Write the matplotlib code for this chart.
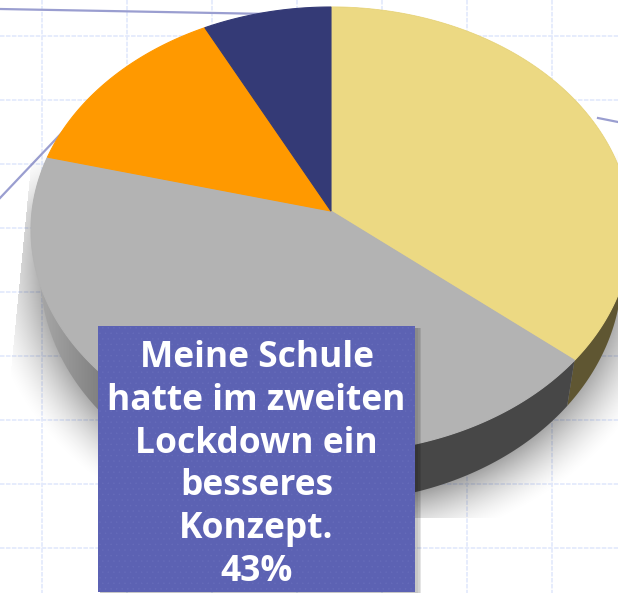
import numpy as np
import matplotlib
matplotlib.use("Agg")
import matplotlib.pyplot as plt
from matplotlib.patches import Polygon, Rectangle

# shares of the pie, clockwise from the top
values = [36, 43, 13.5, 7.5]
top_colors = ["#ecd983", "#b3b3b3", "#ff9900", "#343a76"]
side_colors = ["#5f5632", "#484848", "#484848", "#484848"]
box_text = "Meine Schule\nhatte im zweiten\nLockdown ein\nbesseres\nKonzept.\n43%"

W, H = 618, 593
TILT = 0.085  # perspective: how far the apex moves to the back of the disc


def pie_polys(values, cx, cy, a, b):
    """wedges of a pie seen in perspective, in pixel coordinates"""
    edges = np.cumsum([0] + list(values)) / sum(values) * 2 * np.pi
    apex = (cx, cy - TILT * b)
    polys = []
    for t0, t1 in zip(edges[:-1], edges[1:]):
        t = np.linspace(t0, t1, 200)
        ux, uy = np.sin(t), np.cos(t)
        d = 1 + TILT * uy
        px = cx + a * ux * np.sqrt(1 - TILT ** 2) / d
        py = cy - b * (uy + TILT) / d
        polys.append(np.vstack([apex, np.column_stack([px, py])]))
    return polys


fig = plt.figure(figsize=(W / 100, H / 100), dpi=100)
ax = fig.add_axes([0, 0, 1, 1])
ax.set_xlim(0, W)
ax.set_ylim(H, 0)
ax.axis("off")

# background grid
for x in np.arange(42, W, 85):
    ax.plot([x, x], [0, H], color="#e4eafc", lw=1.3, ls=(0, (2.5, 0.8)), zorder=1)
for y in np.arange(36, H, 64):
    ax.plot([0, W], [y, y], color="#e4eafc", lw=1.3, ls=(0, (2.5, 0.8)), zorder=1)

# thin lines behind the pie
for xs, ys in [([0, 270], [9, 14]), ([0, 111], [198, 81]), ([598, 618], [118, 122])]:
    ax.plot(xs, ys, color="#9a9ed0", lw=1.6, zorder=2)

# soft shadow under the pie
yy, xx = np.mgrid[0:518, 0:W]
d = np.sqrt(((xx - 331) / 318.0) ** 2 + ((yy - 268) / 262.0) ** 2)
alpha = np.clip((1.10 - d) / 0.22, 0, 1) ** 1.6 * 0.42
alpha *= np.clip((yy - 150) / 60.0, 0, 1)
alpha[xx < 30 - (yy - 170) * 18 / 185] = 0
shadow = np.zeros(d.shape + (4,))
shadow[..., 3] = alpha
ax.imshow(shadow, extent=(0, W, 518, 0), zorder=3, aspect="auto", interpolation="bilinear")
ax.set_xlim(0, W)
ax.set_ylim(H, 0)

top_polys = pie_polys(values, 331, 230, 300, 223)
low_polys = pie_polys(values, 331, 271, 291, 231)

# side of the pie, only the rim part that shows below the top
side_polys = [np.vstack([t[1:], l[:0:-1]]) for t, l in zip(top_polys, low_polys)]
ax.add_patch(Polygon(side_polys[0], closed=True, facecolor=side_colors[0], lw=0, zorder=4))
gray_side = Polygon(side_polys[1], closed=True, transform=ax.transData)
grad = np.interp(np.arange(W), [30, 100, 300, 415], [0.68, 0.50, 0.32, 0.28])
im = ax.imshow(np.tile(grad, (H, 1)), cmap="gray", vmin=0, vmax=1, extent=(0, W, H, 0),
               zorder=4.5, aspect="auto")
im.set_clip_path(gray_side)
ax.set_xlim(0, W)
ax.set_ylim(H, 0)

# top of the pie
for poly, col in zip(top_polys, top_colors):
    ax.add_patch(Polygon(poly, closed=True, facecolor=col, edgecolor=col, lw=0.8, zorder=5))

# label box with its shadow
for i, a in enumerate([0.06, 0.08, 0.10]):
    ax.add_patch(Rectangle((100, 328), 318 + i * 1.5, 270, facecolor="black", alpha=a,
                           lw=0, zorder=6))
plt.rcParams["hatch.linewidth"] = 0.3
ax.add_patch(Rectangle((98, 326), 317, 266, facecolor="#5c62b3", edgecolor="#666cba",
                       hatch="...", lw=0, zorder=7))
ax.text(256.5, 465, box_text, color="white", family="Open Sans", weight="bold",
        fontsize=25.5, ha="center", va="center", linespacing=1.245, zorder=8)

fig.savefig("out.png", dpi=100)
